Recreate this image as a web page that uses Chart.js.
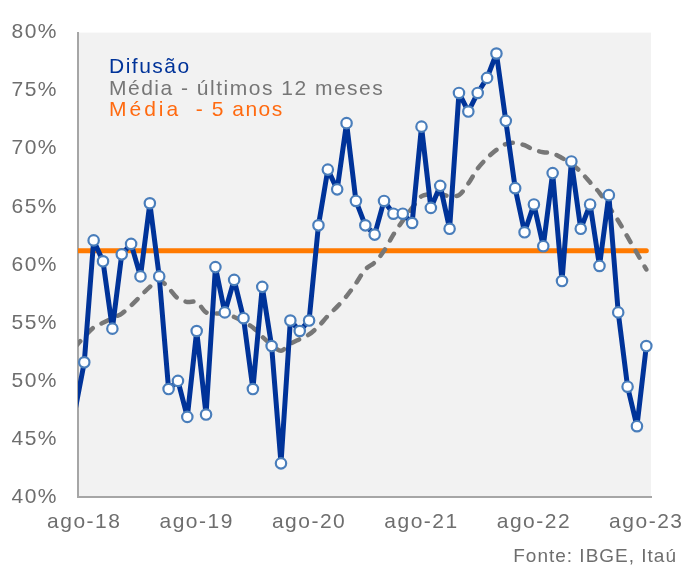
<!DOCTYPE html>
<html><head><meta charset="utf-8">
<script src="https://cdn.jsdelivr.net/npm/chart.js@4.4.0/dist/chart.umd.min.js"></script>
<style>html,body{margin:0;padding:0;background:#fff;}#wrap{width:686px;height:567px;}</style>
</head><body><div id="wrap"><canvas id="c" width="686" height="567"></canvas></div>
<script>
const months = ['jul-18','ago-18','set-18','out-18','nov-18','dez-18','jan-19','fev-19','mar-19','abr-19','mai-19','jun-19','jul-19',
'ago-19','set-19','out-19','nov-19','dez-19','jan-20','fev-20','mar-20','abr-20','mai-20','jun-20','jul-20',
'ago-20','set-20','out-20','nov-20','dez-20','jan-21','fev-21','mar-21','abr-21','mai-21','jun-21','jul-21',
'ago-21','set-21','out-21','nov-21','dez-21','jan-22','fev-22','mar-22','abr-22','mai-22','jun-22','jul-22',
'ago-22','set-22','out-22','nov-22','dez-22','jan-23','fev-23','mar-23','abr-23','mai-23','jun-23','jul-23','ago-23'];
const difusao = [47.4,51.6,62.1,60.3,54.5,60.9,61.8,59.0,65.3,59.0,49.3,50.0,46.9,
54.3,47.1,59.8,55.9,58.7,55.4,49.3,58.1,53.0,42.9,55.2,54.3,
55.2,63.4,68.2,66.5,72.2,65.5,63.4,62.6,65.5,64.4,64.4,63.6,
71.9,64.9,66.8,63.1,74.8,73.2,74.8,76.1,78.2,72.4,66.6,62.8,
65.2,61.6,67.9,58.6,68.9,63.1,65.2,59.9,66.0,55.9,49.5,46.1,53.0];
const media12m = [52.9,53.8,54.6,55.0,55.4,55.8,56.5,57.3,58.1,58.7,58.0,57.1,56.8,
56.8,55.9,55.8,55.8,55.5,55.1,54.6,53.8,53.1,52.6,53.2,53.6,
54.0,54.7,55.6,56.4,57.3,58.4,59.6,60.2,61.2,62.6,63.8,64.9,
65.9,66.1,66.1,65.9,66.0,67.0,68.3,69.2,69.9,70.4,70.5,70.3,
69.9,69.7,69.6,69.2,68.7,68.0,67.1,66.2,65.0,63.8,62.4,61.0,59.6];
const media5anos = 61.2;
const tickLabels = ['ago-18','ago-19','ago-20','ago-21','ago-22','ago-23'];
const legendLabels = ['Difusão','Média - últimos 12 meses','Média','  - 5 anos'];
const sourceText = 'Fonte: IBGE, Itaú';

const FONT = "'Liberation Sans', Arial, sans-serif";
const BLUE = '#003399', GRAY = '#777777', ORANGE = '#ff7a00', TXT = '#6e6e6e';

const pts = arr => arr.map((v, i) => ({x: i, y: v}));
const tickIdx = tickLabels.map(l => months.indexOf(l));

const bgPlugin = {
  id: 'bg',
  beforeDraw(chart) {
    const {ctx, chartArea: a} = chart;
    ctx.letterSpacing = '1.5px';
    ctx.save();
    ctx.fillStyle = '#f2f2f2';
    ctx.fillRect(a.left, a.top, a.right - a.left, a.bottom - a.top);
    ctx.restore();
  },
  afterDraw(chart) {
    const ctx = chart.ctx;
    ctx.save();
    ctx.textAlign = 'left';
    ctx.textBaseline = 'alphabetic';
    ctx.font = '21px ' + FONT;
    ctx.letterSpacing = '1.5px';
    ctx.fillStyle = BLUE;
    ctx.fillText(legendLabels[0], 109, 73);
    ctx.fillStyle = '#767676';
    ctx.fillText(legendLabels[1], 109, 95);
    ctx.fillStyle = '#ff6a10';
    ctx.letterSpacing = '3px';
    ctx.fillText(legendLabels[2], 109, 116);
    const w = ctx.measureText(legendLabels[2]).width;
    ctx.letterSpacing = '1.5px';
    ctx.fillText(legendLabels[3], 109 + w, 116);
    ctx.font = '19px ' + FONT;
    ctx.letterSpacing = '1px';
    ctx.textAlign = 'right';
    ctx.fillStyle = TXT;
    ctx.fillText(sourceText, 677, 562);
    ctx.restore();
  }
};

new Chart(document.getElementById('c'), {
  type: 'line',
  data: {
    datasets: [
      {
        label: 'Difusão', data: pts(difusao), order: 0,
        borderColor: BLUE, borderWidth: 5, tension: 0,
        borderJoinStyle: 'round', borderCapStyle: 'round',
        pointRadius: c => c.dataIndex === 0 ? 0 : 5.2, pointBorderWidth: 2.2,
        pointBackgroundColor: '#ffffff', pointBorderColor: '#4a7ebb',
        clip: {left: 0, right: 10, top: 10, bottom: 10}
      },
      {
        label: 'Média - últimos 12 meses', data: pts(media12m), order: 1,
        borderColor: GRAY, borderWidth: 4.5, borderDash: [8, 10], borderCapStyle: 'round',
        borderJoinStyle: 'round', tension: 0.3, pointRadius: 0,
        clip: {left: 0, right: 10, top: 10, bottom: 10}
      },
      {
        label: 'Média - 5 anos', order: 2,
        data: [{x: 0, y: media5anos}, {x: months.length - 1, y: media5anos}],
        borderColor: ORANGE, borderWidth: 5, borderCapStyle: 'round', pointRadius: 0,
        clip: {left: 0, right: 10, top: 10, bottom: 10}
      }
    ]
  },
  options: {
    responsive: false, animation: false, devicePixelRatio: 1,
    layout: {padding: {left: 0, right: 35, top: 24, bottom: 0}},
    plugins: {legend: {display: false}, tooltip: {enabled: false}},
    scales: {
      x: {
        type: 'linear', min: 0.33, max: 61.5,
        grid: {display: false, drawTicks: false},
        border: {display: true, color: '#a6a6a6', width: 2},
        afterBuildTicks(s) { s.ticks = tickIdx.map(v => ({value: v})); },
        afterFit(s) { s.height = 70; s.paddingLeft = 0; s.paddingRight = 0; },
        ticks: {
          autoSkip: false, maxRotation: 0, padding: 13, color: TXT,
          font: {family: FONT, size: 21},
          callback: v => months[v]
        }
      },
      y: {
        min: 40, max: 80,
        grid: {display: false, drawTicks: false},
        border: {display: true, color: '#a6a6a6', width: 2},
        afterFit(s) { s.width = 78; },
        ticks: {
          stepSize: 5, padding: 20, color: TXT,
          font: {family: FONT, size: 21},
          callback: v => v + '%'
        }
      }
    }
  },
  plugins: [bgPlugin]
});
</script>
</body></html>
